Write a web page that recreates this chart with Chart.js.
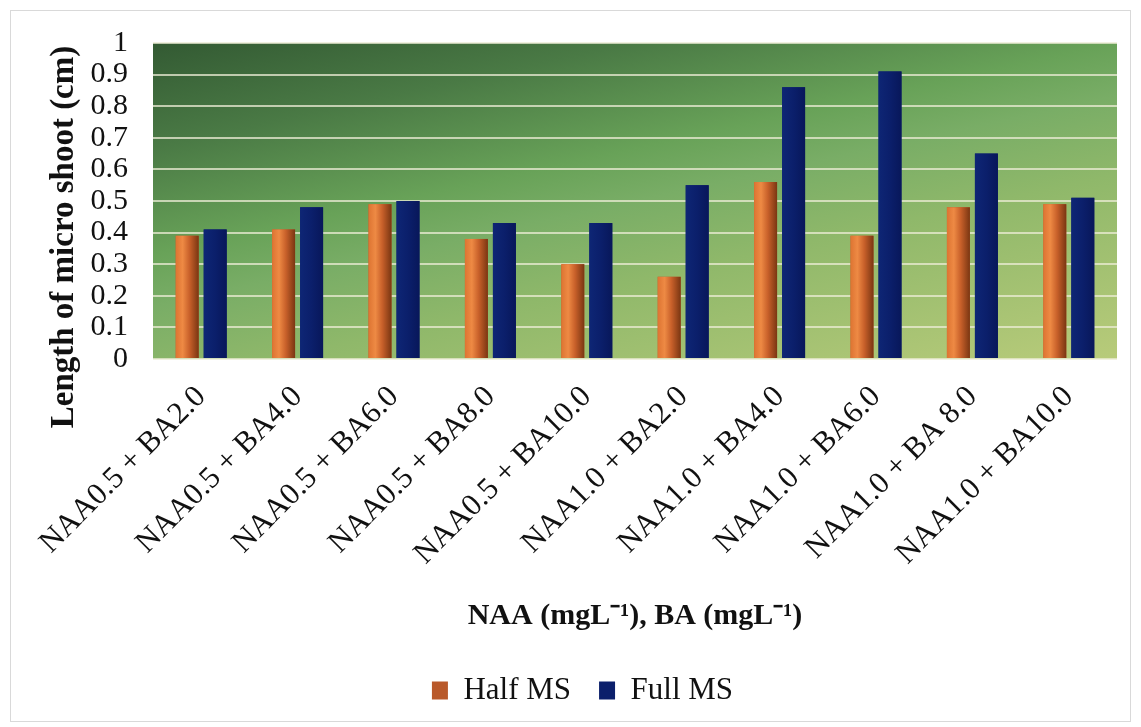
<!DOCTYPE html>
<html>
<head>
<meta charset="utf-8">
<script src="https://cdn.jsdelivr.net/npm/chart.js@4.4.0/dist/chart.umd.min.js"></script>
<style>
  html, body { margin: 0; padding: 0; background: #fff; }
  #wrap { width: 1141px; height: 727px; }
</style>
</head>
<body>
<div id="wrap"><canvas id="myChart" width="1141" height="727"></canvas></div>
<script>
// data
const categories = ['NAA0.5 + BA2.0', 'NAA0.5 + BA4.0', 'NAA0.5 + BA6.0', 'NAA0.5 + BA8.0', 'NAA0.5 + BA10.0',
                    'NAA1.0 + BA2.0', 'NAA1.0 + BA4.0', 'NAA1.0 + BA6.0', 'NAA1.0 + BA 8.0', 'NAA1.0 + BA10.0'];
const halfMS = [0.39, 0.41, 0.49, 0.38, 0.30, 0.26, 0.56, 0.39, 0.48, 0.49];
const fullMS = [0.41, 0.48, 0.50, 0.43, 0.43, 0.55, 0.86, 0.91, 0.65, 0.51];
const yTicks = [0, 0.1, 0.2, 0.3, 0.4, 0.5, 0.6, 0.7, 0.8, 0.9, 1];
const yTitle = 'Length of micro shoot (cm)';

const serif = "'Liberation Serif', 'Times New Roman', serif";

// white page, thin frame and the green plot background
const backdrop = {
    id: 'backdrop',
    beforeDraw(chart) {
        const c = chart.ctx;
        const a = chart.chartArea;
        c.save();
        c.fillStyle = '#fff';
        c.fillRect(0, 0, chart.width, chart.height);
        c.strokeStyle = '#d9d9d9';
        c.lineWidth = 1;
        c.strokeRect(10.5, 10.5, chart.width - 21, chart.height - 16);
        // darker top-left, lighter bottom-right, changes faster downwards
        let w = a.right - a.left, h = a.bottom - a.top;
        let dx = 0.4 / w, dy = 0.6 / h, d2 = dx * dx + dy * dy;
        let g = c.createLinearGradient(a.left, a.top, a.left + dx / d2, a.top + dy / d2);
        g.addColorStop(0, '#335a33');
        g.addColorStop(0.2, '#4a7a45');
        g.addColorStop(0.4, '#68a258');
        g.addColorStop(0.5, '#79ad66');
        g.addColorStop(0.65, '#8fb86a');
        g.addColorStop(1, '#b8cb7a');
        c.fillStyle = g;
        c.fillRect(a.left, a.top, w, h);
        c.restore();
    },
    // cylinder-like shading painted over each bar
    afterDatasetsDraw(chart) {
        const c = chart.ctx;
        c.save();
        chart.data.datasets.forEach(function(ds, i) {
            chart.getDatasetMeta(i).data.forEach(function(bar) {
                let x0 = bar.x - bar.width / 2, x1 = bar.x + bar.width / 2;
                let g = c.createLinearGradient(x0, 0, x1, 0);
                if (i == 0) {
                    g.addColorStop(0, '#dd7432');
                    g.addColorStop(0.3, '#ee8a44');
                    g.addColorStop(0.6, '#c8602a');
                    g.addColorStop(1, '#7a3612');
                } else {
                    g.addColorStop(0, '#0e2675');
                    g.addColorStop(0.5, '#0b1f6b');
                    g.addColorStop(1, '#08175a');
                }
                c.fillStyle = g;
                c.fillRect(x0, bar.y, bar.width, bar.base - bar.y);
            });
        });
        c.restore();
    },
    // the y title in the original sits lower than the plot centre
    afterDraw(chart) {
        const c = chart.ctx;
        const a = chart.chartArea;
        c.save();
        c.translate(73, (a.top + a.bottom) / 2 + 36);
        c.rotate(-Math.PI / 2);
        c.font = 'bold 33px ' + serif;
        c.fillStyle = '#111';
        c.textAlign = 'center';
        c.textBaseline = 'alphabetic';
        c.fillText(yTitle, 0, 0);
        c.restore();
    }
};

let ctx = document.getElementById('myChart').getContext('2d');
let chart = new Chart(ctx, {
    type: 'bar',
    data: {
        labels: categories,
        datasets: [
            {
                label: 'Half MS',
                backgroundColor: '#b9592a',
                data: halfMS,
                barPercentage: 0.82,
                categoryPercentage: 0.581
            },
            {
                label: 'Full MS',
                backgroundColor: '#0b1f6b',
                data: fullMS,
                barPercentage: 0.82,
                categoryPercentage: 0.581
            }
        ]
    },
    options: {
        responsive: false,
        animation: false,
        layout: { padding: { left: 48, right: 24, top: 42, bottom: 11 } },
        plugins: {
            tooltip: { enabled: false },
            legend: {
                position: 'bottom',
                labels: {
                    color: '#111',
                    font: { family: serif, size: 31 },
                    boxWidth: 16,
                    boxHeight: 18,
                    padding: 28
                }
            }
        },
        scales: {
            x: {
                grid: { display: false },
                border: { display: false },
                ticks: {
                    color: '#111',
                    font: { family: serif, size: 31 },
                    maxRotation: 45,
                    minRotation: 45,
                    autoSkip: false,
                    padding: 12
                },
                title: {
                    display: true,
                    text: 'NAA (mgL\u207B\u00B9), BA (mgL\u207B\u00B9)',
                    color: '#111',
                    font: { family: serif, size: 30, weight: 'bold' },
                    padding: { top: 0, bottom: 13 }
                },
                afterFit(scale) { scale.height = 288; }
            },
            y: {
                min: 0,
                max: 1,
                afterBuildTicks(scale) { scale.ticks = yTicks.map(v => ({ value: v })); },
                grid: { color: 'rgba(236,236,214,0.75)', lineWidth: 2, drawTicks: false },
                border: { display: false },
                ticks: {
                    color: '#111',
                    font: { family: serif, size: 30 },
                    padding: 25,
                    autoSkip: false,
                    callback: v => String(Math.round(v * 10) / 10)
                },
                title: { display: false },
                afterFit(scale) { scale.width = 105; }
            }
        }
    },
    plugins: [backdrop]
});
</script>
</body>
</html>
